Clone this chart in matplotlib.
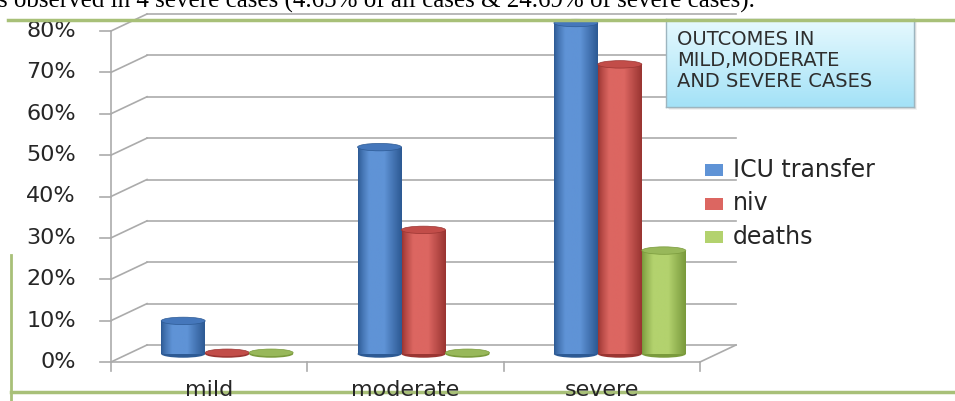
import matplotlib.pyplot as plt
import numpy as np
from matplotlib.patches import Ellipse, Rectangle
from matplotlib.transforms import ScaledTranslation, blended_transform_factory
from matplotlib.colors import LinearSegmentedColormap

categories = ['mild', 'moderate', 'severe']
series = ['ICU transfer', 'niv', 'deaths']
icu_transfer = [8, 50, 80]
niv = [0.3, 30, 70]
deaths = [0.3, 0.3, 25]
y_ticks = [0, 10, 20, 30, 40, 50, 60, 70, 80]
y_labels = ['0%', '10%', '20%', '30%', '40%', '50%', '60%', '70%', '80%']
box_title = 'OUTCOMES IN\nMILD,MODERATE\nAND SEVERE CASES'
caption = 's observed in 4 severe cases (4.65% of all cases & 24.69% of severe cases).'

# (dark edge, light centre, top cap) for each series
colores = {
    'ICU transfer': ('#2d5a94', '#5f93d6', '#4577bb'),
    'niv': ('#9a3532', '#dc6661', '#c24d49'),
    'deaths': ('#7a9a3c', '#b3d26e', '#98b85a'),
}

GRIS = '#ababab'
VERDE = '#a8c078'
FUENTE = 'DejaVu Sans'

fig = plt.figure(figsize=(9.55, 4.01), dpi=100)
ax = fig.add_axes([111 / 955, 39 / 401, 589 / 955, 331 / 401])
ax.set_xlim(0, 3)
ax.set_ylim(0, 80)
ax.axis('off')

# depth offsets: back wall and the plane the cylinders stand on
fondo = ax.transData + ScaledTranslation(0.36, 0.17, fig.dpi_scale_trans)
medio = ax.transData + ScaledTranslation(0.18, 0.08, fig.dpi_scale_trans)

# back wall gridlines and the diagonals joining them to the axis
for y in y_ticks:
    ax.plot([0, 3], [y, y], color=GRIS, lw=1.2, transform=fondo, clip_on=False)
    p0 = ax.transData.transform((0, y))
    p1 = fondo.transform((0, y))
    ax.plot([p0[0], p1[0]], [p0[1], p1[1]], color=GRIS, lw=1.2,
            transform=None, clip_on=False)
    ax.plot([p0[0] - 11, p0[0]], [p0[1], p0[1]], color=GRIS, lw=1.2,
            transform=None, clip_on=False)

# front axis line, floor edge and category ticks
ax.plot([0, 0], [0, 80], color=GRIS, lw=1.2, clip_on=False)
ax.plot([0, 3], [0, 0], color=GRIS, lw=1.2, clip_on=False)
q0 = ax.transData.transform((3, 0))
q1 = fondo.transform((3, 0))
ax.plot([q0[0], q1[0]], [q0[1], q1[1]], color=GRIS, lw=1.2, transform=None, clip_on=False)
for xt in [0, 1, 2, 3]:
    p = ax.transData.transform((xt, 0))
    ax.plot([p[0], p[0]], [p[1], p[1] - 9], color=GRIS, lw=1.2, transform=None, clip_on=False)

# y tick labels
trans_y = blended_transform_factory(fig.transFigure, ax.transData)
for y, lab in zip(y_ticks, y_labels):
    ax.text(76 / 955, y, lab, transform=trans_y, ha='right', va='center',
            fontsize=16, family=FUENTE, color='#262626')

# category labels
for i, c in enumerate(categories):
    ax.text(i + 0.5, 0, c, transform=ax.transData + ScaledTranslation(0, -0.28, fig.dpi_scale_trans),
            ha='center', va='center', fontsize=16, family=FUENTE, color='#262626', zorder=6)

# cylinders
ancho = 0.224
alto_elipse = 1.8
valores = [icu_transfer, niv, deaths]
for j, nombre in enumerate(series):
    oscuro, claro, tapa = colores[nombre]
    cmap = LinearSegmentedColormap.from_list(nombre, [oscuro, claro, claro, oscuro])
    grad = cmap(np.linspace(0, 1, 64) ** 0.8)[None, :, :]
    for i, v in enumerate(valores[j]):
        x0 = i + 0.5 + (j - 1) * ancho - ancho / 2
        xc = x0 + ancho / 2
        base = Ellipse((xc, 0), ancho, alto_elipse, transform=medio,
                       facecolor=oscuro, edgecolor='none', clip_on=False, zorder=3)
        ax.add_patch(base)
        cuerpo = Rectangle((x0, 0), ancho, v, transform=medio,
                           facecolor='none', edgecolor='none', clip_on=False)
        ax.add_patch(cuerpo)
        im = ax.imshow(grad, extent=(x0, x0 + ancho, 0, v), transform=medio,
                       aspect='auto', interpolation='bilinear', zorder=3)
        im.set_clip_path(cuerpo)
        top = Ellipse((xc, v), ancho, alto_elipse, transform=medio,
                      facecolor=tapa, edgecolor=oscuro, lw=0.5, clip_on=False, zorder=4)
        ax.add_patch(top)

ax.set_xlim(0, 3)
ax.set_ylim(0, 80)

# legend
for j, nombre in enumerate(series):
    yc = 1 - (170 + j * 33.5) / 401
    fig.add_artist(Rectangle((705 / 955, yc - 6 / 401), 18 / 955, 12 / 401,
                             transform=fig.transFigure, facecolor=colores[nombre][1],
                             edgecolor='none'))
    fig.text(733 / 955, yc, nombre, ha='left', va='center', fontsize=17,
             family=FUENTE, color='#262626')

# title box with a soft shadow
for k, a in enumerate([0.10, 0.14, 0.18]):
    d = 3 - k
    sombra = fig.add_axes([(666 + d) / 955, 1 - (107 + d) / 401, 248 / 955, 88 / 401])
    sombra.set_facecolor((0.5, 0.5, 0.5, a))
    sombra.set_xticks([])
    sombra.set_yticks([])
    for s in sombra.spines.values():
        s.set_visible(False)
caja_ax = fig.add_axes([666 / 955, 1 - 107 / 401, 248 / 955, 88 / 401])
caja_ax.imshow(np.linspace(0, 1, 50)[:, None],
               cmap=LinearSegmentedColormap.from_list('caja', ['#e6f9fe', '#a4e2f7']),
               aspect='auto', extent=(0, 1, 0, 1), origin='upper')
caja_ax.set_xticks([])
caja_ax.set_yticks([])
for s in caja_ax.spines.values():
    s.set_color('#9db5bf')
    s.set_linewidth(1)
caja_ax.text(0.045, 0.88, box_title, ha='left', va='top', fontsize=14,
             family=FUENTE, color='#2e2e2e', linespacing=1.15,
             transform=caja_ax.transAxes)

# page frame lines and cropped caption
fig.add_artist(plt.Line2D([8 / 955, 1], [1 - 20 / 401] * 2, color=VERDE, lw=2.5,
                          transform=fig.transFigure, zorder=5))
fig.add_artist(plt.Line2D([11 / 955, 1], [1 - 392 / 401] * 2, color=VERDE, lw=2.5,
                          transform=fig.transFigure, zorder=-1))
fig.add_artist(plt.Line2D([11 / 955, 11 / 955], [0, 1 - 255 / 401], color=VERDE, lw=2,
                          transform=fig.transFigure, zorder=-1))
fig.text(-2 / 955, 1 - 8 / 401, caption, ha='left', va='baseline', fontsize=18,
         family='Liberation Serif', color='black')

fig.savefig('out.png', dpi=100)
